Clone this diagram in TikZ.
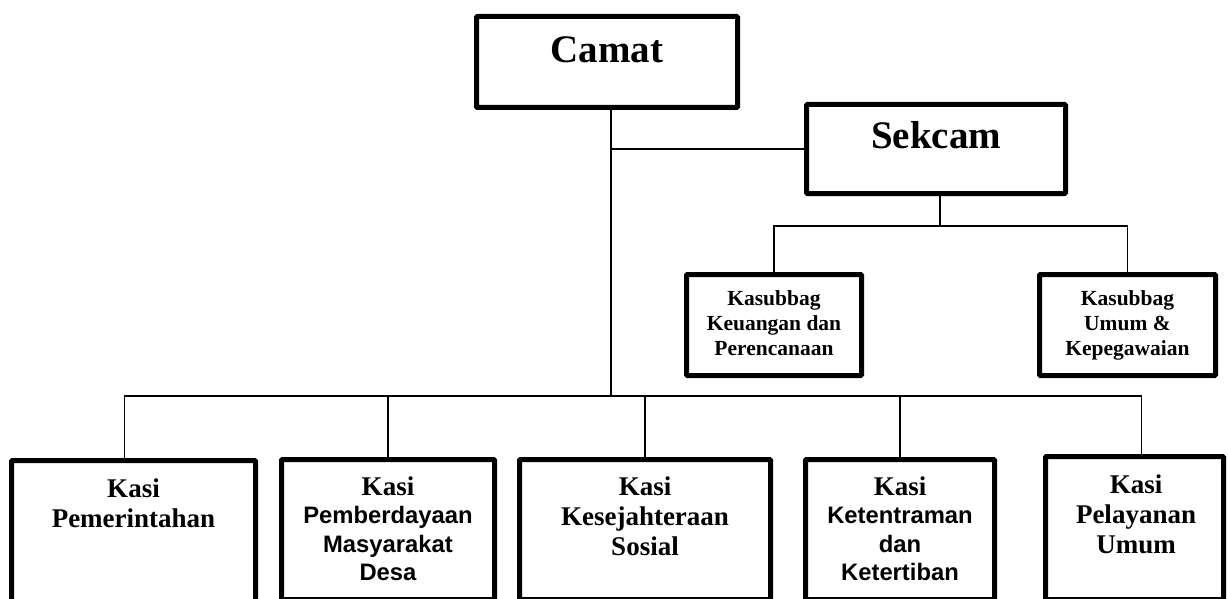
\documentclass[tikz,border=0pt]{standalone}
\usepackage{fontspec}
\setmainfont{Liberation Serif}
\newfontfamily\arialfont{Liberation Sans}
\usetikzlibrary{positioning}

\tikzset{
  box/.style = {draw, line width=5pt, rounded corners=1pt, inner sep=0pt},
  conn/.style = {line width=1.8pt},
  headtxt/.style = {anchor=base, inner sep=0pt, font=\fontsize{39}{44}\selectfont\bfseries},
  subtxt/.style = {anchor=base, inner sep=0pt, align=center, font=\fontsize{21.5}{25}\selectfont\bfseries},
  kasitxt/.style = {anchor=base, inner sep=0pt, align=center, font=\fontsize{27}{30}\selectfont\bfseries},
  mixtxt/.style = {kasitxt, font=\fontsize{27}{28.5}\selectfont\bfseries}
}
\newcommand{\sanstxt}[1]{{\arialfont\fontsize{23.8}{28.5}\selectfont #1}}

\begin{document}
\begin{tikzpicture}[x=1pt, y=-1pt]
  \useasboundingbox (0,0) rectangle (1228,599);
  % top level
  \node[box, minimum width=261, minimum height=91] (camat) at (607,62) {};
  \node[box, minimum width=259, minimum height=89] (sekcam) at (936,149) {};
  \node[box, minimum width=175, minimum height=101] (sub1) at (774,325) {};
  \node[box, minimum width=176, minimum height=101] (sub2) at (1127.5,325) {};
  % kasi boxes
  \node[box, minimum width=244, minimum height=149] (k1) at (133.5,535) {};
  \node[box, minimum width=213, minimum height=140] (k2) at (388,529.5) {};
  \node[box, minimum width=251, minimum height=140] (k3) at (645,529.5) {};
  \node[box, minimum width=189, minimum height=140] (k4) at (900,529.5) {};
  \node[box, minimum width=178, minimum height=143] (k5) at (1134.5,528) {};

  % labels, anchored at the last line
  \node[headtxt] (camattxt) at ([yshift=-49pt]camat.north) {Camat};
  \node[headtxt] (sekcamtxt) at ([yshift=-46pt]sekcam.north) {Sekcam};
  \node[subtxt] (sub1txt) at ([yshift=-83pt]sub1.north) {Kasubbag\\Keuangan dan\\Perencanaan};
  \node[subtxt] (sub2txt) at ([yshift=-83pt]sub2.north) {Kasubbag\\Umum \&\\Kepegawaian};
  \node[kasitxt] (k1txt) at ([yshift=-69pt]k1.north) {Kasi\\Pemerintahan};
  \node[mixtxt] (k2txt) at ([yshift=-123.5pt]k2.north) {Kasi\\\sanstxt{Pemberdayaan}\\\sanstxt{Masyarakat}\\\sanstxt{Desa}};
  \node[kasitxt] (k3txt) at ([yshift=-98pt]k3.north) {Kasi\\Kesejahteraan\\Sosial};
  \node[mixtxt] (k4txt) at ([yshift=-123.5pt]k4.north) {Kasi\\\sanstxt{Ketentraman}\\\sanstxt{dan}\\\sanstxt{Ketertiban}};
  \node[kasitxt] (k5txt) at ([xshift=1.5pt, yshift=-99pt]k5.north) {Kasi\\Pelayanan\\Umum};

  % connectors
  \coordinate (trunk) at (611,396);
  \coordinate (subbus) at (940,226);
  \draw[conn] (camat.south -| trunk) -- (trunk);
  \draw[conn] (sekcam.west) -- (sekcam.west -| trunk);
  \draw[conn] (sekcam.south -| subbus) -- (subbus);
  \draw[conn] (sub1.north) |- (subbus) -| (sub2.north);
  \draw[conn] ([xshift=-9pt]k1.north) |- (trunk) -| ([xshift=7pt]k5.north);
  \foreach \k in {k2,k3,k4}
    \draw[conn] (\k.north) -- (\k.north |- trunk);
\end{tikzpicture}
\end{document}
